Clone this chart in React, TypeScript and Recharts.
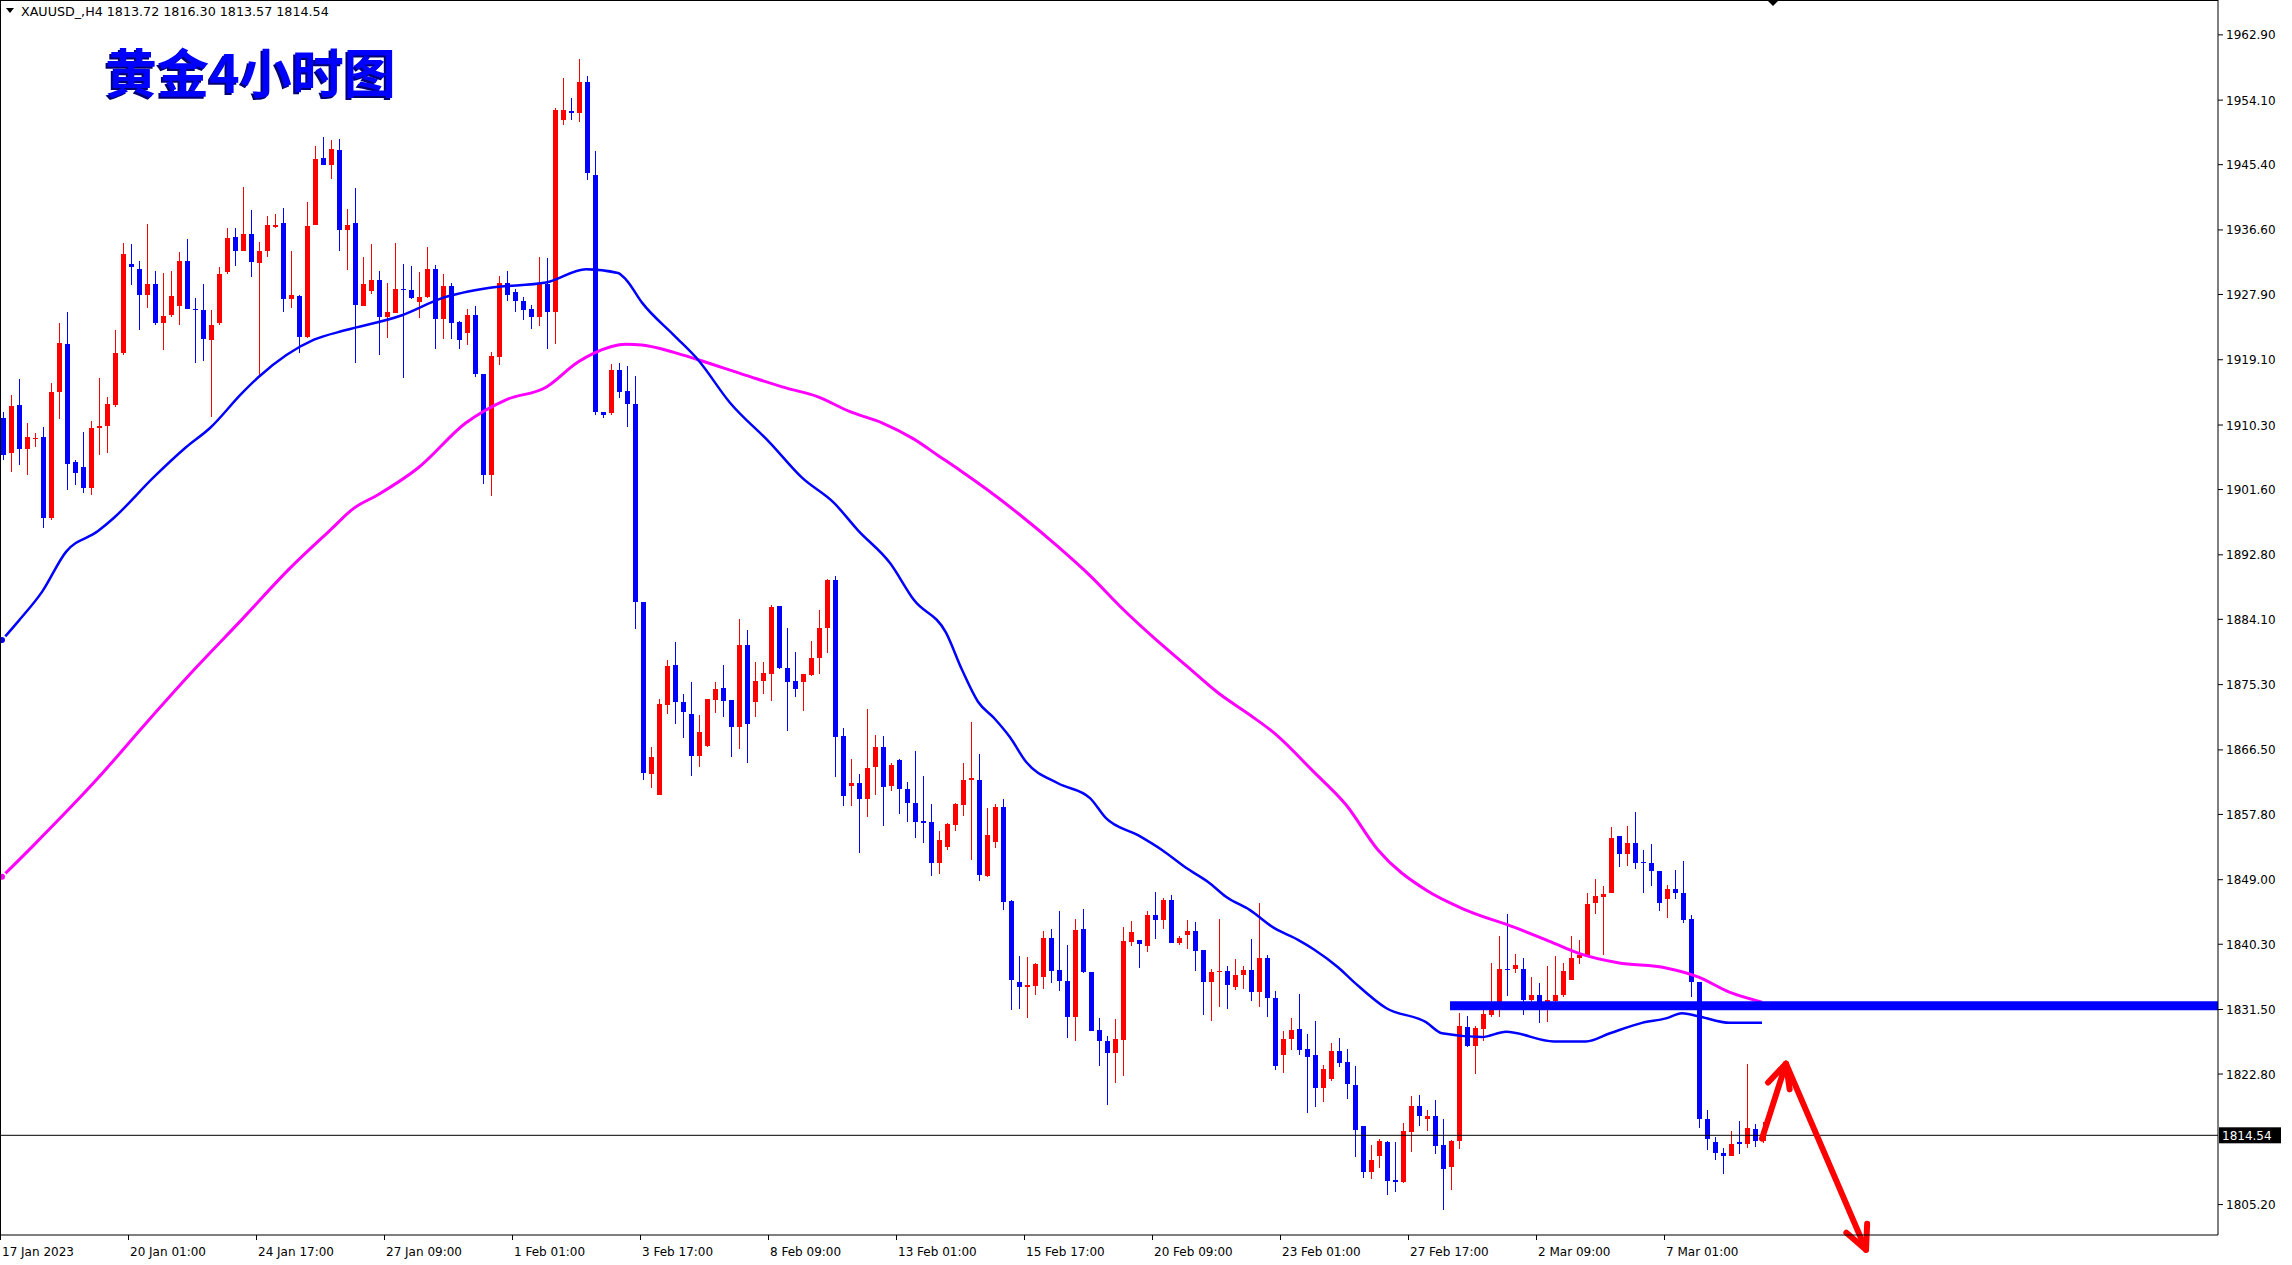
import { ComposedChart, Bar, Line, XAxis, YAxis, ReferenceLine } from 'recharts';

// MT4 style XAUUSD H4 chart, 8px per bar, chart shift on the right
const SLOTS = 277;

const opens = [
  1911.2, 1906.5, 1913.0, 1907.0, 1908.4, 1908.7, 1897.7, 1914.7, 1921.2, 1905.3,
  1904.7, 1901.8, 1909.9, 1910.2, 1913.0, 1920.0, 1932.0, 1931.4, 1927.8, 1929.3,
  1924.0, 1925.1, 1926.3, 1932.4, 1926.0, 1925.8, 1921.8, 1924.0, 1930.9, 1935.6,
  1933.8, 1936.1, 1932.2, 1933.7, 1937.0, 1937.5, 1927.3, 1927.7, 1922.1, 1937.3,
  1946.3, 1945.4, 1947.4, 1936.6, 1937.5, 1926.4, 1928.4, 1929.9, 1924.9, 1925.4,
  1928.7, 1928.5, 1926.9, 1927.6, 1931.3, 1924.6, 1929.0, 1924.2, 1922.7, 1925.1,
  1917.2, 1903.6, 1919.5, 1929.4, 1928.2, 1927.0, 1925.9, 1924.9, 1929.3, 1925.5,
  1951.4, 1952.7, 1952.4, 1956.5, 1944.0, 1912.1, 1911.9, 1917.7, 1914.9, 1913.2,
  1886.4, 1863.2, 1860.4, 1872.5, 1878.0, 1872.9, 1871.4, 1865.7, 1867.0, 1873.2,
  1874.8, 1873.2, 1869.6, 1880.7, 1873.0, 1875.8, 1876.8, 1885.9, 1877.5, 1875.8,
  1875.6, 1876.6, 1878.9, 1883.0, 1889.4, 1868.4, 1861.7, 1862.0, 1859.9, 1864.2,
  1866.9, 1861.7, 1865.1, 1861.2, 1859.4, 1856.9, 1856.8, 1851.2, 1853.4, 1856.4,
  1859.1, 1862.4, 1862.4, 1849.5, 1854.1, 1858.8, 1846.1, 1835.2, 1834.5, 1834.7,
  1835.9, 1841.2, 1836.8, 1835.3, 1830.5, 1842.3, 1836.5, 1828.7, 1827.2, 1825.7,
  1827.4, 1840.6, 1840.9, 1840.1, 1844.2, 1843.6, 1846.3, 1840.5, 1841.5, 1842.1,
  1839.5, 1835.2, 1836.5, 1836.7, 1834.6, 1836.1, 1836.8, 1833.8, 1838.4, 1833.0,
  1825.3, 1827.5, 1828.9, 1826.2, 1825.4, 1820.9, 1822.1, 1825.9, 1824.4, 1821.3,
  1815.8, 1809.6, 1811.8, 1813.6, 1808.5, 1808.2, 1815.0, 1818.5, 1816.7, 1817.2,
  1813.2, 1810.3, 1813.8, 1829.2, 1826.6, 1828.9, 1830.8, 1831.9, 1837.0, 1836.9,
  1836.9, 1832.8, 1833.4, 1832.2, 1832.6, 1833.4, 1835.5, 1838.5, 1838.8, 1845.9,
  1846.7, 1847.2, 1854.9, 1852.4, 1854.0, 1851.4, 1851.3, 1850.2, 1846.4, 1847.7,
  1847.2, 1843.7, 1835.2, 1816.8, 1813.6, 1812.1, 1811.8, 1813.6, 1813.4, 1815.4,
  1813.72,
];

const highs = [
  1912.0, 1914.4, 1916.5, 1910.6, 1909.2, 1910.1, 1915.9, 1924.0, 1925.6, 1905.6,
  1909.4, 1910.9, 1916.6, 1914.1, 1923.1, 1934.9, 1934.7, 1932.4, 1937.4, 1931.1,
  1930.8, 1931.0, 1933.6, 1935.4, 1927.4, 1929.3, 1925.8, 1931.6, 1936.8, 1936.8,
  1942.4, 1939.3, 1935.0, 1938.5, 1938.8, 1939.5, 1933.7, 1927.8, 1940.3, 1947.9,
  1949.1, 1948.7, 1948.8, 1939.4, 1942.2, 1933.0, 1934.7, 1931.0, 1929.4, 1934.8,
  1932.0, 1931.8, 1930.9, 1934.3, 1931.9, 1930.7, 1929.5, 1924.3, 1926.0, 1926.3,
  1917.2, 1920.1, 1930.4, 1931.0, 1928.7, 1927.6, 1926.5, 1933.0, 1932.8, 1953.0,
  1957.1, 1954.4, 1959.6, 1957.3, 1947.2, 1912.1, 1918.5, 1918.6, 1918.2, 1916.9,
  1886.5, 1866.9, 1873.3, 1878.6, 1881.0, 1874.0, 1875.6, 1871.2, 1873.4, 1875.6,
  1877.9, 1873.2, 1884.1, 1882.7, 1878.3, 1878.3, 1886.1, 1885.9, 1882.9, 1879.7,
  1876.8, 1881.2, 1885.4, 1889.6, 1890.0, 1869.4, 1865.3, 1863.3, 1872.0, 1868.5,
  1868.4, 1864.8, 1865.3, 1862.2, 1866.4, 1863.0, 1859.2, 1855.6, 1856.6, 1859.3,
  1864.8, 1870.3, 1866.0, 1858.6, 1859.2, 1859.9, 1846.3, 1838.7, 1838.6, 1837.8,
  1842.1, 1842.4, 1844.8, 1840.2, 1843.7, 1845.1, 1836.5, 1830.3, 1827.9, 1830.2,
  1842.6, 1843.4, 1840.9, 1844.8, 1847.3, 1846.6, 1846.9, 1841.4, 1843.6, 1843.3,
  1839.5, 1836.9, 1843.7, 1837.3, 1838.3, 1837.4, 1841.0, 1845.9, 1838.8, 1834.0,
  1828.6, 1830.3, 1833.6, 1828.2, 1829.9, 1824.0, 1827.0, 1827.7, 1826.2, 1823.9,
  1815.8, 1813.2, 1814.0, 1813.8, 1813.7, 1816.2, 1819.8, 1820.0, 1817.9, 1819.3,
  1816.7, 1813.9, 1831.0, 1830.6, 1829.3, 1831.5, 1837.8, 1841.4, 1844.4, 1839.0,
  1838.5, 1835.9, 1835.1, 1837.4, 1838.7, 1837.8, 1841.4, 1840.9, 1847.2, 1849.1,
  1848.1, 1856.1, 1854.9, 1856.2, 1858.1, 1853.0, 1853.8, 1850.2, 1848.3, 1850.3,
  1851.5, 1844.2, 1835.2, 1817.9, 1814.3, 1812.8, 1815.1, 1816.5, 1824.1, 1816.1,
  1816.30,
];

const lows = [
  1905.6, 1904.0, 1904.9, 1903.6, 1907.4, 1896.4, 1897.5, 1911.1, 1901.5, 1902.2,
  1901.2, 1900.9, 1906.3, 1906.5, 1912.7, 1919.7, 1929.2, 1923.1, 1926.1, 1923.8,
  1920.4, 1924.9, 1923.8, 1925.9, 1918.7, 1918.9, 1911.4, 1923.8, 1930.7, 1931.7,
  1933.7, 1930.2, 1917.1, 1933.0, 1936.8, 1925.6, 1926.1, 1920.0, 1922.0, 1937.3,
  1945.4, 1943.5, 1933.7, 1931.2, 1918.6, 1926.3, 1928.0, 1919.7, 1922.0, 1925.4,
  1916.7, 1927.3, 1924.7, 1927.4, 1920.5, 1921.9, 1921.9, 1920.6, 1921.1, 1916.8,
  1902.4, 1900.7, 1918.4, 1927.0, 1925.6, 1924.5, 1923.2, 1923.6, 1920.5, 1921.2,
  1950.8, 1951.4, 1951.1, 1943.4, 1911.7, 1911.2, 1911.7, 1913.9, 1910.0, 1882.8,
  1862.5, 1861.3, 1860.4, 1871.4, 1870.0, 1868.1, 1863.0, 1864.2, 1866.9, 1871.5,
  1870.9, 1865.6, 1866.6, 1864.8, 1871.0, 1874.1, 1873.1, 1877.4, 1869.0, 1873.6,
  1871.8, 1876.5, 1876.7, 1879.5, 1862.9, 1858.9, 1858.9, 1852.6, 1857.5, 1860.4,
  1856.2, 1860.9, 1857.9, 1856.8, 1854.6, 1853.9, 1849.5, 1849.8, 1853.0, 1855.5,
  1857.6, 1851.7, 1848.8, 1849.3, 1853.3, 1844.9, 1831.4, 1831.6, 1830.4, 1833.5,
  1834.3, 1835.1, 1834.0, 1827.6, 1827.3, 1836.4, 1828.6, 1823.9, 1818.6, 1821.6,
  1822.5, 1840.0, 1837.1, 1839.2, 1841.0, 1842.4, 1840.5, 1840.2, 1839.7, 1836.7,
  1830.8, 1830.0, 1831.9, 1831.6, 1834.1, 1834.3, 1832.7, 1831.9, 1830.5, 1823.3,
  1823.0, 1826.1, 1825.4, 1817.5, 1818.3, 1819.0, 1821.9, 1823.8, 1819.5, 1811.6,
  1808.8, 1808.6, 1810.2, 1806.5, 1806.9, 1808.1, 1812.3, 1815.8, 1815.1, 1812.0,
  1804.5, 1807.1, 1812.7, 1826.4, 1822.8, 1827.2, 1830.5, 1830.5, 1833.3, 1836.4,
  1830.7, 1832.5, 1829.7, 1829.8, 1832.5, 1833.2, 1835.5, 1837.6, 1838.7, 1844.4,
  1838.8, 1847.2, 1850.7, 1850.9, 1850.4, 1847.2, 1848.2, 1844.8, 1843.9, 1846.4,
  1843.2, 1833.2, 1815.5, 1812.5, 1811.2, 1809.3, 1811.8, 1812.0, 1812.8, 1813.0,
  1813.57,
];

const closes = [
  1906.3, 1912.9, 1907.0, 1908.7, 1908.6, 1897.7, 1914.8, 1921.3, 1905.1, 1903.8,
  1901.8, 1909.9, 1910.2, 1913.1, 1920.0, 1933.4, 1931.6, 1927.8, 1929.3, 1924.0,
  1925.0, 1927.7, 1932.4, 1926.0, 1925.8, 1921.9, 1923.8, 1930.7, 1935.5, 1933.8,
  1936.1, 1932.3, 1933.7, 1937.2, 1937.2, 1927.3, 1927.8, 1922.1, 1937.1, 1946.2,
  1945.4, 1947.5, 1936.6, 1937.3, 1926.5, 1929.3, 1929.9, 1924.9, 1925.5, 1928.7,
  1928.5, 1927.4, 1927.5, 1931.3, 1924.6, 1929.1, 1924.1, 1921.7, 1925.1, 1917.2,
  1903.6, 1919.6, 1929.4, 1927.8, 1927.0, 1925.8, 1924.8, 1929.3, 1925.5, 1952.8,
  1952.8, 1952.4, 1956.5, 1944.3, 1912.0, 1911.7, 1917.7, 1914.8, 1913.1, 1886.5,
  1863.4, 1865.5, 1872.7, 1877.8, 1873.0, 1871.6, 1865.7, 1868.9, 1873.4, 1874.7,
  1873.1, 1869.6, 1880.7, 1870.0, 1875.8, 1876.9, 1885.7, 1877.5, 1875.6, 1874.7,
  1876.8, 1878.9, 1882.9, 1889.4, 1868.3, 1860.3, 1862.0, 1859.9, 1864.0, 1866.9,
  1861.5, 1864.4, 1861.2, 1859.4, 1856.8, 1856.7, 1851.3, 1854.4, 1856.5, 1859.2,
  1862.4, 1862.7, 1849.6, 1855.0, 1858.8, 1846.0, 1835.5, 1834.6, 1834.8, 1837.7,
  1841.1, 1836.7, 1835.4, 1830.5, 1842.2, 1836.6, 1828.6, 1827.3, 1825.7, 1827.5,
  1840.7, 1841.9, 1840.3, 1844.3, 1843.6, 1846.3, 1840.5, 1841.1, 1842.1, 1839.4,
  1835.2, 1836.5, 1836.7, 1834.8, 1836.2, 1836.8, 1833.8, 1838.5, 1833.0, 1823.9,
  1827.5, 1828.7, 1826.1, 1825.1, 1820.9, 1823.5, 1825.9, 1824.3, 1821.4, 1815.3,
  1809.6, 1811.2, 1813.8, 1808.4, 1808.2, 1815.1, 1818.5, 1817.2, 1817.2, 1813.1,
  1810.0, 1813.8, 1829.3, 1826.6, 1829.0, 1830.9, 1831.5, 1837.0, 1836.9, 1837.5,
  1832.8, 1833.4, 1832.3, 1832.8, 1833.5, 1836.7, 1838.5, 1838.8, 1845.7, 1846.8,
  1847.1, 1854.6, 1852.4, 1854.0, 1851.2, 1851.3, 1850.2, 1845.9, 1847.7, 1847.2,
  1843.6, 1835.2, 1816.8, 1814.1, 1812.1, 1811.8, 1813.4, 1813.4, 1815.5, 1813.8,
  1814.54,
];

// moving averages at sample bars
const maFastIdx = [0, 2, 5, 8, 12, 14, 19, 23, 26, 30, 32, 39, 43, 50, 55, 61, 68, 73, 77, 78, 80, 84, 87, 91, 96, 100, 104, 107, 111, 114, 118, 120, 122, 124, 126, 128, 132, 136, 138, 142, 145, 148, 151, 153, 156, 159, 162, 164, 167, 169, 173, 178, 180, 185, 188, 194, 198, 201, 205, 208, 210, 212, 216, 220];
const maFastVal = [1881.3, 1883.8, 1887.8, 1893.2, 1896.0, 1897.8, 1903.3, 1907.3, 1909.9, 1914.6, 1916.7, 1921.8, 1923.1, 1925.1, 1927.4, 1928.8, 1929.5, 1931.3, 1930.8, 1929.9, 1926.8, 1922.4, 1919.1, 1913.3, 1907.9, 1903.2, 1899.8, 1896.1, 1891.7, 1886.7, 1882.3, 1877.3, 1873.0, 1870.8, 1868.2, 1864.9, 1862.0, 1860.0, 1857.3, 1855.0, 1853.0, 1850.6, 1848.5, 1846.7, 1844.9, 1842.5, 1840.9, 1839.6, 1837.2, 1835.2, 1831.7, 1829.8, 1828.3, 1827.8, 1828.5, 1827.2, 1827.2, 1828.3, 1829.7, 1830.3, 1831.0, 1830.6, 1829.7, 1829.7];

const maSlowIdx = [0, 4, 12, 18, 24, 30, 36, 41, 44, 47, 52, 58, 63, 68, 72, 74, 78, 80, 84, 87, 93, 98, 102, 106, 110, 114, 117, 120, 123, 127, 132, 136, 140, 144, 148, 152, 156, 159, 164, 168, 172, 178, 183, 189, 193, 197, 202, 208, 212, 216, 220];
const maSlowVal = [1849.4, 1853.7, 1862.7, 1870.1, 1877.3, 1884.1, 1891.0, 1896.1, 1899.1, 1900.9, 1904.5, 1910.6, 1913.7, 1915.4, 1918.8, 1920.0, 1921.2, 1921.1, 1920.1, 1919.1, 1917.0, 1915.3, 1914.1, 1912.1, 1910.6, 1908.4, 1906.2, 1904.0, 1901.7, 1898.4, 1893.9, 1890.0, 1885.6, 1881.6, 1877.9, 1874.2, 1871.2, 1868.8, 1863.5, 1859.1, 1853.0, 1847.6, 1844.9, 1842.6, 1840.9, 1839.1, 1837.8, 1837.1, 1835.9, 1833.8, 1832.5];

const timeTickIdx = [0, 16, 32, 48, 64, 80, 96, 112, 128, 144, 160, 176, 192, 208];
const timeTickText = [
  '17 Jan 2023', '20 Jan 01:00', '24 Jan 17:00', '27 Jan 09:00', '1 Feb 01:00',
  '3 Feb 17:00', '8 Feb 09:00', '13 Feb 01:00', '15 Feb 17:00', '20 Feb 09:00',
  '23 Feb 01:00', '27 Feb 17:00', '2 Mar 09:00', '7 Mar 01:00',
];

const priceTicks = [
  1962.9, 1954.1, 1945.4, 1936.6, 1927.9, 1919.1, 1910.3, 1901.6, 1892.8, 1884.1,
  1875.3, 1866.5, 1857.8, 1849.0, 1840.3, 1831.5, 1822.8, 1814.54, 1805.2,
];

const lastPrice = 1814.54;
const levelPrice = 1832.0;
const levelFrom = 181;
const arrowUp = [{ x: 220, y: 1814.1 }, { x: 223, y: 1824.2 }];
const arrowDown = [{ x: 223, y: 1824.2 }, { x: 233, y: 1799.1 }];

const FONT = '"DejaVu Sans", Verdana, sans-serif';
const CJK = '"Noto Sans CJK SC", sans-serif';

const fastMap = new Map(maFastIdx.map((k, n) => [k, maFastVal[n]]));
const slowMap = new Map(maSlowIdx.map((k, n) => [k, maSlowVal[n]]));

const rows = Array.from({ length: SLOTS }, (_, i) => {
  const has = i < opens.length;
  return {
    i,
    range: has ? [lows[i], highs[i]] : null,
    o: has ? opens[i] : null,
    h: has ? highs[i] : null,
    l: has ? lows[i] : null,
    c: has ? closes[i] : null,
    maFast: fastMap.has(i) ? fastMap.get(i) : null,
    maSlow: slowMap.has(i) ? slowMap.get(i) : null,
  };
});

const Candle = (props: any) => {
  const { x, y, width, height, payload } = props;
  if (!payload || payload.o == null || height == null) return null;
  const { o, h, l, c } = payload;
  const top = Math.min(y, y + height);
  const span = Math.abs(height);
  const px = (v: number) => top + ((h - v) / (h - l || 1)) * span;
  const color = c >= o ? '#ff0000' : '#0000ff';
  const cx = Math.round(x + width / 2);
  const bTop = Math.round(px(Math.max(o, c)));
  const bBot = Math.round(px(Math.min(o, c)));
  return (
    <g>
      <line x1={cx + 0.5} x2={cx + 0.5} y1={Math.round(top)} y2={Math.round(top + span)} stroke={color} strokeWidth={1} />
      <rect x={cx - 2} y={bTop} width={5} height={Math.max(bBot - bTop, 1)} fill={color} />
    </g>
  );
};

const TimeTick = (props: any) => {
  const { x, payload } = props;
  const k = timeTickIdx.indexOf(payload.value);
  if (k < 0) return <g />;
  return (
    <g>
      <line x1={x - 1.5} x2={x - 1.5} y1={1235} y2={1240} stroke='#000' />
      <text x={x} y={1256} fontSize={12} fontFamily={FONT} fill='#000'>
        {timeTickText[k]}
      </text>
    </g>
  );
};

const PriceTick = (props: any) => {
  const { y, payload } = props;
  const v = payload.value;
  if (v === lastPrice) {
    return (
      <g>
        <rect x={2219} y={y - 8} width={62} height={16} fill='#000' />
        <text x={2222} y={y + 4.5} fontSize={12} fontFamily={FONT} fill='#fff'>
          {v.toFixed(2)}
        </text>
      </g>
    );
  }
  return (
    <g>
      <line x1={2218} x2={2223} y1={y} y2={y} stroke='#000' />
      <text x={2226} y={y + 4.5} fontSize={12} fontFamily={FONT} fill='#000'>
        {v.toFixed(2)}
      </text>
    </g>
  );
};

const arrowShape = (p: any) => {
  const { x1, y1, x2, y2 } = p;
  const ang = Math.atan2(y2 - y1, x2 - x1);
  const len = 26;
  const spread = 0.45;
  const ax = x2 - len * Math.cos(ang - spread);
  const ay = y2 - len * Math.sin(ang - spread);
  const bx = x2 - len * Math.cos(ang + spread);
  const by = y2 - len * Math.sin(ang + spread);
  return (
    <g>
      <line x1={x1} y1={y1} x2={x2} y2={y2} stroke='#ff0000' strokeWidth={6} strokeLinecap='round' />
      <polyline points={`${ax},${ay} ${x2},${y2} ${bx},${by}`} fill='none' stroke='#ff0000' strokeWidth={6} strokeLinecap='round' strokeLinejoin='round' />
    </g>
  );
};

const levelShape = (p: any) => (
  <line x1={p.x1} y1={p.y1} x2={p.x2 + 8} y2={p.y2} stroke='#0000ff' strokeWidth={9} />
);

function App() {
  return (
    <div style={{ position: 'absolute', left: 0, top: 0, width: 2292, height: 1265, background: '#fff', overflow: 'hidden' }}>
      <ComposedChart
        width={2292}
        height={1265}
        data={rows}
        margin={{ top: 0, right: 0, bottom: 0, left: -2 }}
        barCategoryGap={0}
      >
        <XAxis
          dataKey='i'
          type='category'
          height={30}
          interval={0}
          padding={{ left: 0, right: 4 }}
          axisLine={{ stroke: '#000' }}
          tickLine={false}
          tick={<TimeTick />}
        />
        <YAxis
          orientation='right'
          width={74}
          type='number'
          domain={[1801.1, 1967.6]}
          allowDataOverflow
          ticks={priceTicks}
          interval={0}
          tickSize={0}
          tickMargin={0}
          axisLine={{ stroke: '#000' }}
          tickLine={false}
          tick={<PriceTick />}
        />
        <Bar dataKey='range' barSize={5} shape={<Candle />} isAnimationActive={false} />
        <Line
          dataKey='maSlow'
          type='monotone'
          stroke='#ff00ff'
          strokeWidth={3}
          dot={false}
          connectNulls
          isAnimationActive={false}
        />
        <Line
          dataKey='maFast'
          type='monotone'
          stroke='#0000ff'
          strokeWidth={2.5}
          dot={false}
          connectNulls
          isAnimationActive={false}
        />
        <ReferenceLine y={lastPrice} stroke='#000' strokeWidth={1} />
        <ReferenceLine
          segment={[{ x: levelFrom, y: levelPrice }, { x: SLOTS - 1, y: levelPrice }]}
          ifOverflow='visible'
          shape={levelShape}
        />
        <ReferenceLine segment={arrowUp} ifOverflow='visible' shape={arrowShape} />
        <ReferenceLine segment={arrowDown} ifOverflow='visible' shape={arrowShape} />
      </ComposedChart>

      <svg
        width={2292}
        height={1265}
        style={{ position: 'absolute', left: 0, top: 0, pointerEvents: 'none' }}
      >
        <line x1={0} x2={2218} y1={0.5} y2={0.5} stroke='#000' />
        <line x1={0.5} x2={0.5} y1={0} y2={1235} stroke='#000' />
        <polygon points='1767,0 1779,0 1773,6' fill='#000' />
        <polygon points='6,8 14,8 10,13' fill='#000' />
        <text x={21} y={16} fontSize={12.7} fontFamily={FONT} fill='#000'>
          XAUUSD_,H4  1813.72 1816.30 1813.57 1814.54
        </text>
        <text x={103} y={95} fontSize={52} fontWeight={700} fontFamily={CJK} fill='#000070'>
          黄金4小时图
        </text>
        <text x={105} y={93} fontSize={52} fontWeight={700} fontFamily={CJK} fill='#0000ff'>
          黄金4小时图
        </text>
      </svg>
    </div>
  );
}

export default App;
